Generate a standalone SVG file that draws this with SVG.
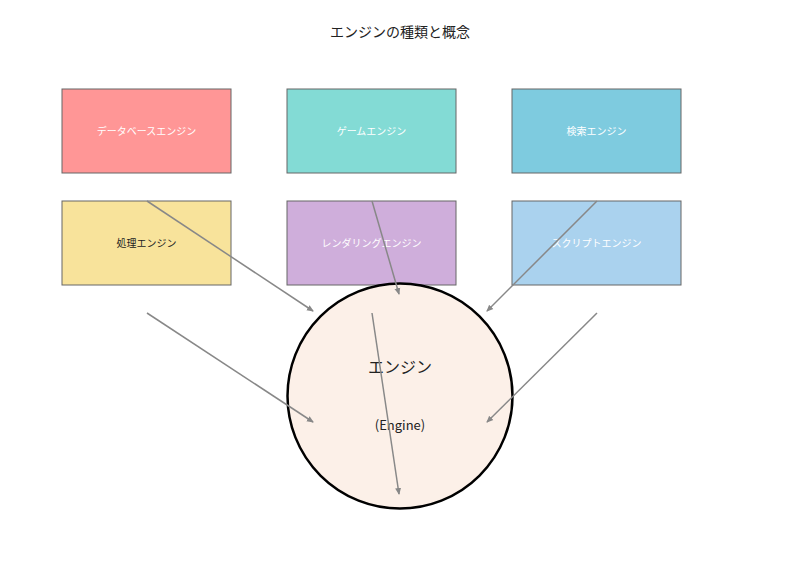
<svg xmlns="http://www.w3.org/2000/svg" width="800" height="570" viewBox="0 0 800 570">
<style>
text{font-family:"Noto Sans CJK JP","Noto Sans",sans-serif;text-anchor:middle;dominant-baseline:central}
.box{stroke:#666;stroke-width:1}
.lbl{font-size:10px;fill:#ffffff}
.dark{fill:#222}
.edge{stroke:#888;stroke-width:1.5;fill:none;marker-end:url(#ah)}
</style>
<defs>
<marker id="ah" markerWidth="8" markerHeight="8" refX="6" refY="4" orient="auto" markerUnits="userSpaceOnUse">
<path d="M0,1 L7,4 L0,7 z" fill="#888"/>
</marker>
</defs>
<rect width="800" height="570" fill="#fff"/>
<text x="400" y="31" font-size="14" fill="#222">エンジンの種類と概念</text>
<g id="db"><rect class="box" x="62" y="89" width="169" height="84" fill="#ff9696"/><text class="lbl" x="146.5" y="130">データベースエンジン</text></g>
<g id="game"><rect class="box" x="287" y="89" width="169" height="84" fill="#83dbd5"/><text class="lbl" x="371.5" y="130">ゲームエンジン</text></g>
<g id="search"><rect class="box" x="512" y="89" width="169" height="84" fill="#7ecbdf"/><text class="lbl" x="596.5" y="130">検索エンジン</text></g>
<g id="proc"><rect class="box" x="62" y="201" width="169" height="84" fill="#f8e39b"/><text class="lbl dark" x="146.5" y="242">処理エンジン</text></g>
<g id="render"><rect class="box" x="287" y="201" width="169" height="84" fill="#cfaedb"/><text class="lbl" x="371.5" y="242">レンダリングエンジン</text></g>
<g id="script"><rect class="box" x="512" y="201" width="169" height="84" fill="#aad2ee"/><text class="lbl" x="596.5" y="242">スクリプトエンジン</text></g>
<g id="engine"><circle cx="400" cy="396" r="112.5" fill="#fcf0e8" stroke="#000" stroke-width="2.5"/>
<text x="400" y="366" font-size="16" fill="#222">エンジン</text>
<text x="400" y="424" font-size="13" fill="#222">(Engine)</text></g>
<g id="connectors">
<line class="edge" x1="147" y1="201" x2="313" y2="311"/>
<line class="edge" x1="372" y1="201" x2="399" y2="294"/>
<line class="edge" x1="597" y1="201" x2="487" y2="311"/>
<line class="edge" x1="147" y1="313" x2="313" y2="422"/>
<line class="edge" x1="372" y1="313" x2="399" y2="494"/>
<line class="edge" x1="597" y1="313" x2="487" y2="422"/>
</g>
</svg>
